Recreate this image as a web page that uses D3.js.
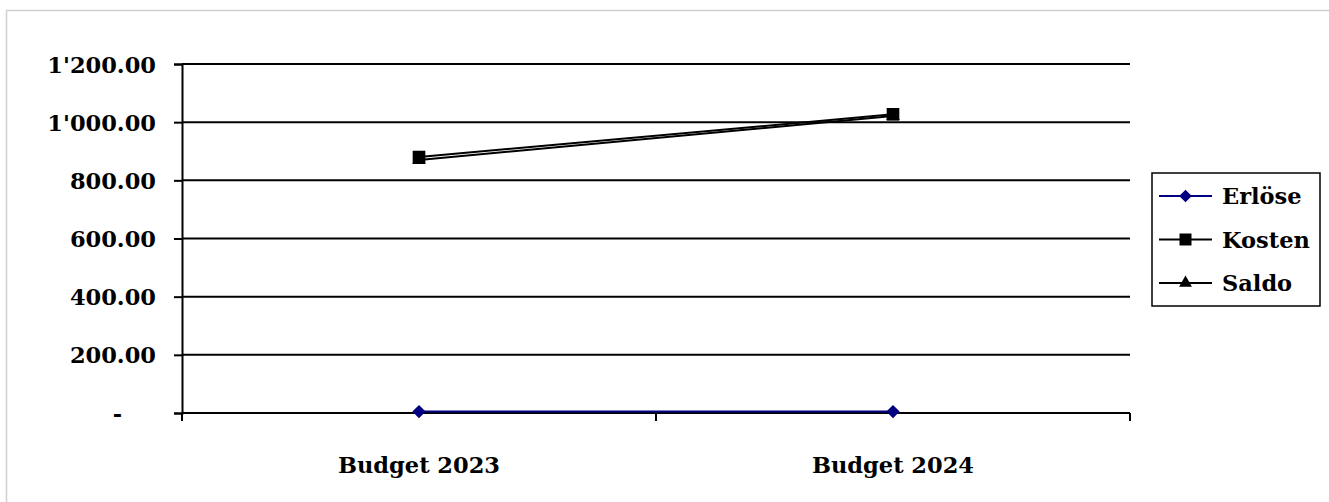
<!DOCTYPE html>
<html>
<head>
<meta charset="utf-8">
<script src="https://cdn.jsdelivr.net/npm/d3@7"></script>
<style>
  body { margin: 0; background: #fff; }
  svg { display: block; }
  text { font-family: "DejaVu Serif", serif; font-weight: bold; fill: #000; }
</style>
</head>
<body>
<div id="chart"></div>
<script>
// chart data
const categories = ["Budget 2023", "Budget 2024"];
const erloese = [5, 5];
const kosten = [880, 1027];
const saldo = [870, 1021];
const yTicks = [0, 200, 400, 600, 800, 1000, 1200];

// diamond as a square turned by 45 degrees
const diamond = {
  draw(ctx, size) {
    const r = Math.sqrt(size / 2);
    ctx.moveTo(0, -r); ctx.lineTo(r, 0); ctx.lineTo(0, r); ctx.lineTo(-r, 0); ctx.closePath();
  }
};

const seriesList = [
  { name: "Erlöse", values: erloese, color: "#000080", symbol: diamond, size: 88 },
  { name: "Kosten", values: kosten, color: "#000", symbol: d3.symbolSquare, size: 160 },
  { name: "Saldo", values: saldo, color: "#000", symbol: d3.symbolTriangle, size: 80 }
];

const width = 1329, height = 502;
const plot = { left: 182, right: 1130, top: 64, bottom: 413 };

const svg = d3.select("#chart").append("svg")
  .attr("width", width)
  .attr("height", height);

// outer frame
svg.append("rect")
  .attr("x", 6.5).attr("y", 10.5)
  .attr("width", 1324).attr("height", 520)
  .attr("fill", "none")
  .attr("stroke", "#d0d0d0")
  .attr("stroke-width", 1.5);

const x = d3.scaleBand().domain(categories).range([plot.left, plot.right]);
const y = d3.scaleLinear().domain([0, 1200]).range([plot.bottom, plot.top]);

const loc = d3.formatLocale({ decimal: ".", thousands: "'", grouping: [3], currency: ["", ""] });
const fmt = loc.format(",.2f");

// y axis
const yAxis = d3.axisLeft(y)
  .tickValues(yTicks)
  .tickSize(8)
  .tickPadding(18)
  .tickFormat(d => d === 0 ? "-" : fmt(d));

const gy = svg.append("g")
  .attr("transform", `translate(${plot.left},0)`)
  .call(yAxis);
gy.select(".domain").attr("stroke", "#000").attr("stroke-width", 2);
gy.selectAll(".tick line").attr("stroke", "#000").attr("stroke-width", 2);
gy.selectAll(".tick text")
  .style("font-size", "22.5px")
  .attr("dy", "0.36em")
  .attr("dx", d => d === 0 ? -34 : 0);

// gridlines
svg.append("g").selectAll("line")
  .data(yTicks)
  .join("line")
  .attr("x1", plot.left).attr("x2", plot.right)
  .attr("y1", d => y(d)).attr("y2", d => y(d))
  .attr("stroke", "#000").attr("stroke-width", 2);

// category ticks at band edges
const edges = categories.map(c => x(c)).concat([plot.right]);
svg.append("g").selectAll("line")
  .data(edges)
  .join("line")
  .attr("x1", d => d).attr("x2", d => d)
  .attr("y1", plot.bottom).attr("y2", plot.bottom + 8)
  .attr("stroke", "#000").attr("stroke-width", 2);

svg.append("g").selectAll("text")
  .data(categories)
  .join("text")
  .attr("x", d => x(d) + x.bandwidth() / 2)
  .attr("y", 465)
  .attr("dy", "0.36em")
  .attr("text-anchor", "middle")
  .style("font-size", "22.5px")
  .text(d => d);

// series
const line = d3.line()
  .x((d, i) => x(categories[i]) + x.bandwidth() / 2)
  .y(d => y(d));

seriesList.forEach(s => {
  const g = svg.append("g");
  g.append("path")
    .attr("d", line(s.values))
    .attr("fill", "none")
    .attr("stroke", s.color)
    .attr("stroke-width", 2);
  g.selectAll("path.mark")
    .data(s.values)
    .join("path")
    .attr("class", "mark")
    .attr("d", d3.symbol(s.symbol, s.size))
    .attr("transform", (d, i) => `translate(${x(categories[i]) + x.bandwidth() / 2},${y(d)})`)
    .attr("fill", s.color);
});

// legend
const legend = svg.append("g");
legend.append("rect")
  .attr("x", 1152).attr("y", 173)
  .attr("width", 168).attr("height", 133)
  .attr("fill", "#fff")
  .attr("stroke", "#000")
  .attr("stroke-width", 1.5);

const item = legend.selectAll("g.item")
  .data(seriesList)
  .join("g")
  .attr("class", "item")
  .attr("transform", (d, i) => `translate(0,${196 + i * 43.5})`);
item.append("line")
  .attr("x1", 1159).attr("x2", 1212)
  .attr("stroke", d => d.color).attr("stroke-width", 2);
item.append("path")
  .attr("d", d => d3.symbol(d.symbol, d.size * 0.9)())
  .attr("transform", "translate(1185.5,0)")
  .attr("fill", d => d.color);
item.append("text")
  .attr("x", 1222)
  .attr("dy", "0.36em")
  .style("font-size", "22.5px")
  .text(d => d.name);
</script>
</body>
</html>
